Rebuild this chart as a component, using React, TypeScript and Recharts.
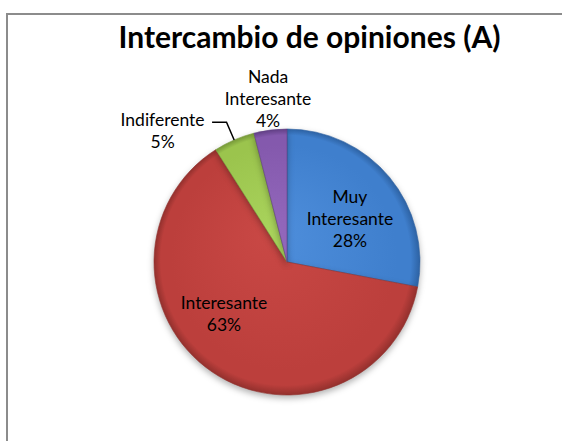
import { PieChart, Pie, Cell } from "recharts";

const CATEGORIES = ["Muy Interesante", "Interesante", "Indiferente", "Nada Interesante"];
const PERCENTS = [28, 63, 5, 4];
const TITLE = "Intercambio de opiniones (A)";

const W = 562;
const H = 441;
const CX = 287;
const CY = 262;
const R = 133;
const RADIAN = Math.PI / 180;
const FONT = "Lato, 'Open Sans', sans-serif";

// colour sets: light centre, base, dark rim
const PALETTE = [
  { id: "gBlue", light: "#4f8fdc", base: "#3f7fcd", dark: "#2d62a3" },
  { id: "gRed", light: "#c94845", base: "#bc3f3c", dark: "#93302d" },
  { id: "gGreen", light: "#a9d35c", base: "#9bc44d", dark: "#769838" },
  { id: "gPurple", light: "#9368bc", base: "#8459ad", dark: "#613f85" },
];

// label placement relative to the slice mid angle
const LABEL_LAYOUT: Record<string, { shift: number; k: number; leader?: { elbow: number; tail: number } }> = {
  "Muy Interesante": { shift: -4.7, k: 0.577 },
  Interesante: { shift: -16.3, k: 0.614 },
  Indiferente: { shift: 20.1, k: 1.359, leader: { elbow: 1.145, tail: 49.5 } },
  "Nada Interesante": { shift: -0.6, k: 1.241 },
};

const data = CATEGORIES.map((name, i) => ({ name, value: PERCENTS[i] }));

const polar = (cx: number, cy: number, r: number, a: number) => ({
  x: cx + r * Math.cos(-a * RADIAN),
  y: cy + r * Math.sin(-a * RADIAN),
});

function renderLabel(props: any) {
  const { cx, cy, midAngle, outerRadius, percent, name } = props;
  const cfg = LABEL_LAYOUT[name];
  const p = polar(cx, cy, outerRadius * cfg.k, midAngle + cfg.shift);
  const lines = [...name.split(" "), `${Math.round(percent * 100)}%`];
  const lh = 22;
  let leader = null;
  if (cfg.leader) {
    const a = polar(cx, cy, outerRadius, midAngle);
    const b = polar(cx, cy, outerRadius * cfg.leader.elbow, midAngle);
    const c = { x: p.x + cfg.leader.tail, y: b.y };
    leader = (
      <polyline
        points={`${a.x},${a.y} ${b.x},${b.y} ${c.x},${c.y}`}
        fill="none"
        stroke="#000"
        strokeWidth={1.5}
      />
    );
  }
  return (
    <g>
      {leader}
      <text
        x={p.x}
        y={p.y}
        textAnchor="middle"
        fontFamily={FONT}
        fontSize={17.5}
        fill="#000"
      >
        {lines.map((t, i) => (
          <tspan key={i} x={p.x} y={p.y + (i - (lines.length - 1) / 2) * lh} dominantBaseline="central">
            {t}
          </tspan>
        ))}
      </text>
    </g>
  );
}

export default function App() {
  return (
    <div style={{ position: "absolute", left: 0, top: 0, width: W, height: H, background: "#fff" }}>
      <style>{`.recharts-pie-sector { filter: drop-shadow(0px 3px 3px rgba(0,0,0,0.3)); }`}</style>
      <div
        style={{
          position: "absolute",
          left: 6,
          top: 13,
          width: W - 6,
          height: H - 13,
          borderTop: "2px solid #8c8c8c",
          borderLeft: "2px solid #8c8c8c",
          boxSizing: "border-box",
        }}
      />
      <svg style={{ position: "absolute", left: 0, top: 0 }} width={W} height={H}>
        <text
          x={309.5}
          y={48}
          textAnchor="middle"
          fontFamily={FONT}
          fontWeight="bold"
          fontSize={30}
          fill="#000"
        >
          {TITLE}
        </text>
      </svg>
      <div style={{ position: "absolute", left: 0, top: 0 }}>
        <PieChart width={W} height={H} margin={{ top: 0, right: 0, bottom: 0, left: 0 }}>
          <defs>
            {PALETTE.map((c) => (
              <radialGradient key={c.id} id={c.id} gradientUnits="userSpaceOnUse" cx={CX} cy={CY} r={R} fx={CX - 20} fy={CY - 30}>
                <stop offset="0%" stopColor={c.light} />
                <stop offset="85%" stopColor={c.base} />
                <stop offset="94%" stopColor={c.base} />
                <stop offset="100%" stopColor={c.dark} />
              </radialGradient>
            ))}
          </defs>
          <Pie
            data={data}
            dataKey="value"
            nameKey="name"
            cx={CX}
            cy={CY}
            outerRadius={R}
            startAngle={90}
            endAngle={-270}
            label={renderLabel}
            labelLine={false}
            isAnimationActive={false}
          >
            {data.map((d, i) => (
              <Cell key={d.name} fill={`url(#${PALETTE[i].id})`} stroke={PALETTE[i].dark} strokeWidth={0.6} />
            ))}
          </Pie>
        </PieChart>
      </div>
    </div>
  );
}
